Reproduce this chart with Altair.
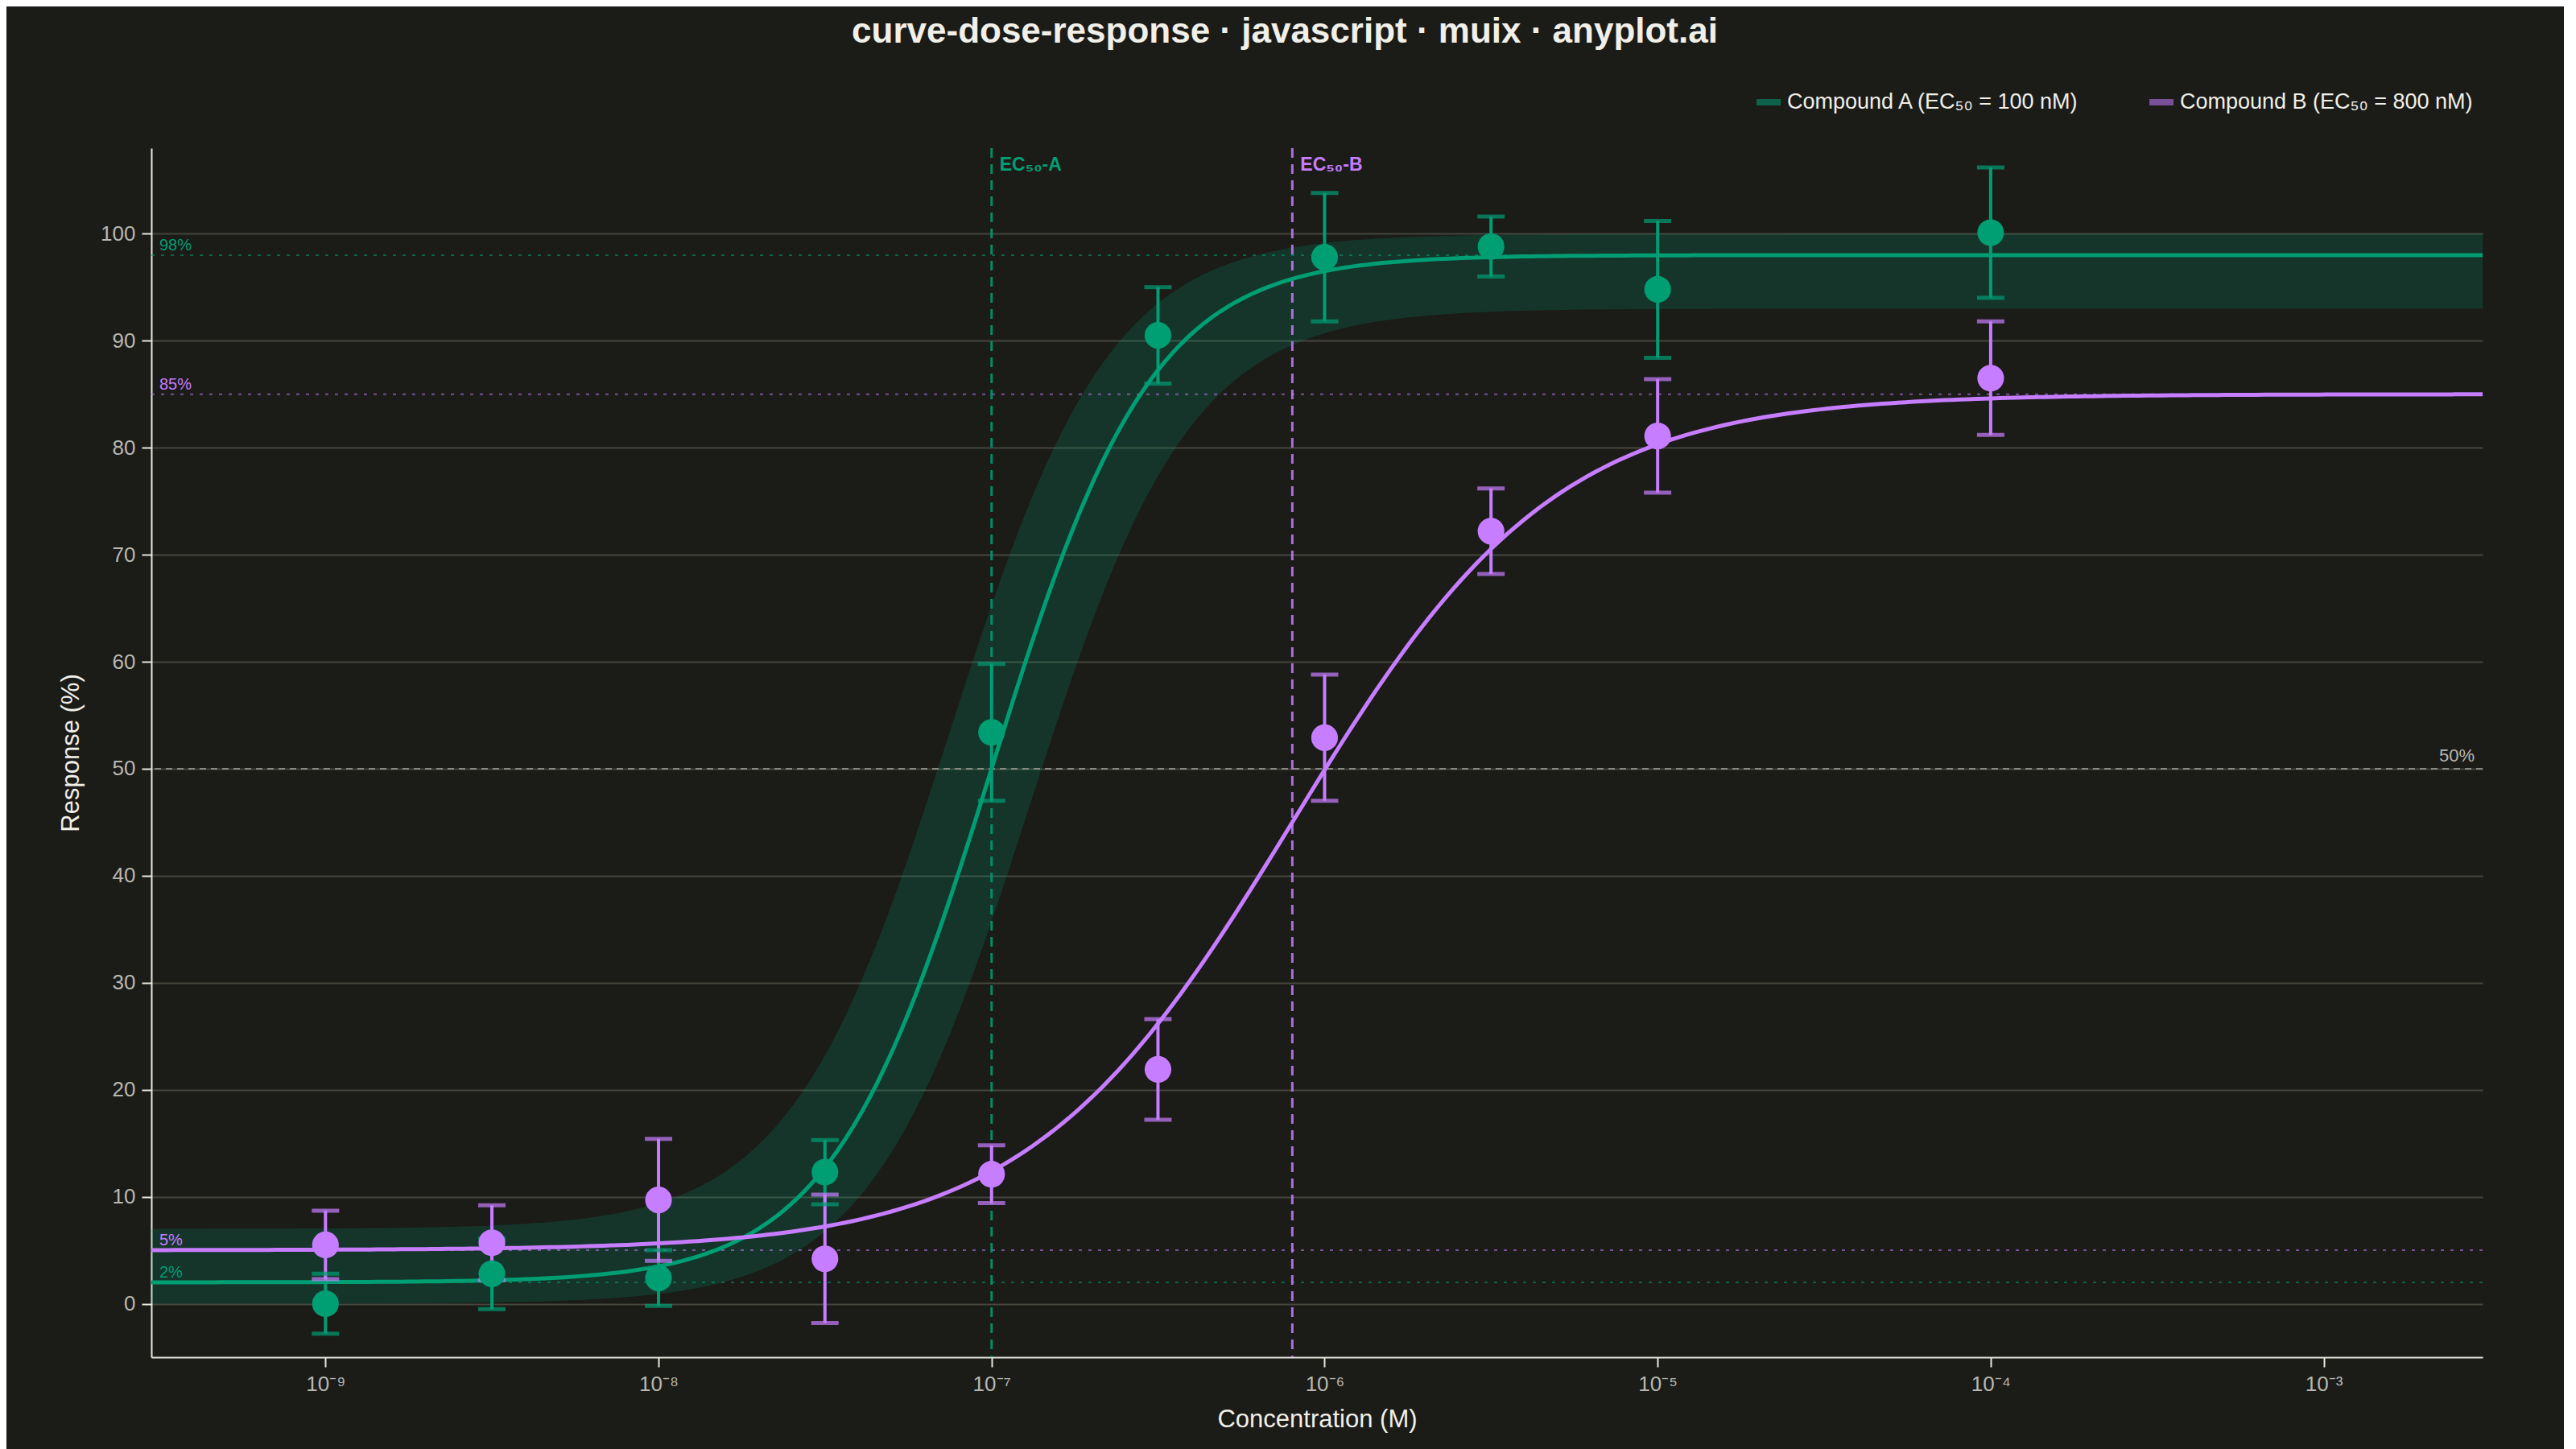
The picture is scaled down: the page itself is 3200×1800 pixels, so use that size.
import numpy as np
import pandas as pd
import altair as alt

names = ["Compound A (EC₅₀ = 100 nM)", "Compound B (EC₅₀ = 800 nM)"]
colors = ["#009E73", "#C77DFF"]

conc = [1e-9, 3.16e-9, 1e-8, 3.16e-8, 1e-7, 3.16e-7, 1e-6, 3.16e-6, 1e-5, 1e-4]
resp_a = [0.0, 2.8, 2.4, 12.3, 53.4, 90.5, 97.8, 98.8, 94.8, 100.1]
err_a = [2.8, 3.3, 2.6, 3.0, 6.4, 4.5, 6.0, 2.8, 6.4, 6.1]
resp_b = [5.5, 5.7, 9.7, 4.2, 12.1, 21.9, 52.9, 72.2, 81.1, 86.5]
err_b = [3.2, 3.5, 5.7, 6.0, 2.7, 4.7, 5.9, 4.0, 5.3, 5.3]

# fitted 4PL parameters: bottom, top, ec50, hill
fit_a = [2, 98, 1e-7, 1.8]
fit_b = [5, 85, 8e-7, 1.1]
band_lo = [0, 93, 1.3e-7, 1.8]
band_hi = [7, 100, 0.75e-7, 1.8]

grid = np.logspace(np.log10(3e-10), np.log10(3e-3), 300)


def fourpl(x, p):
    b, t, ec, h = p
    return b + (t - b) / (1 + (ec / x) ** h)


pts = pd.concat([
    pd.DataFrame({"x": conc, "y": resp_a, "e": err_a, "s": names[0]}),
    pd.DataFrame({"x": conc, "y": resp_b, "e": err_b, "s": names[1]}),
])
pts["lo"] = pts["y"] - pts["e"]
pts["hi"] = pts["y"] + pts["e"]

curves = pd.concat([
    pd.DataFrame({"x": grid, "y": fourpl(grid, fit_a), "s": names[0]}),
    pd.DataFrame({"x": grid, "y": fourpl(grid, fit_b), "s": names[1]}),
])
band = pd.DataFrame({"x": grid, "lo": np.maximum(fourpl(grid, band_lo), 0), "hi": fourpl(grid, band_hi)})

xs = alt.Scale(type="log", domain=[3e-10, 3e-3], nice=False)
ys = alt.Scale(domain=[-5, 108], nice=False, zero=False)
cs = alt.Scale(domain=names, range=colors)
sup = "['⁰','¹','²','³','⁴','⁵','⁶','⁷','⁸','⁹'][round(-log(datum.value)/LN10)]"
xax = alt.Axis(values=[1e-9, 1e-8, 1e-7, 1e-6, 1e-5, 1e-4, 1e-3], labelExpr="'10⁻' + " + sup,
               title="Concentration (M)", grid=False)
yax = alt.Axis(values=list(range(0, 101, 10)), title="Response (%)", grid=True)

X = alt.X("x:Q", scale=xs, axis=xax)

band_layer = alt.Chart(band).mark_area(color="#009E73", opacity=0.2).encode(
    x=X, y=alt.Y("lo:Q", scale=ys, axis=yax), y2="hi:Q")

hlines = pd.DataFrame({"y": [98, 85, 5, 2], "c": ["#009E73", "#C77DFF", "#C77DFF", "#009E73"],
                       "t": ["98%", "85%", "5%", "2%"]})
h_layer = alt.Chart(hlines).mark_rule(strokeDash=[4, 8], strokeWidth=2, opacity=0.55).encode(
    y=alt.Y("y:Q", scale=ys), color=alt.Color("c:N", scale=None))
h_text = alt.Chart(hlines).mark_text(align="left", baseline="bottom", dx=10, dy=-2, fontSize=20,
                                     font="Liberation Sans").encode(
    x=alt.value(0), y=alt.Y("y:Q", scale=ys), text="t:N", color=alt.Color("c:N", scale=None))

half = pd.DataFrame({"y": [50], "t": ["50%"]})
half_layer = alt.Chart(half).mark_rule(strokeDash=[8, 6], strokeWidth=2, color="#8a8a84").encode(
    y=alt.Y("y:Q", scale=ys))
half_text = alt.Chart(half).mark_text(align="right", baseline="bottom", dx=-10, dy=-4, fontSize=22,
                                      color="#b8b8b0", font="Liberation Sans").encode(
    x=alt.value(2896), y=alt.Y("y:Q", scale=ys), text="t:N")

vlines = pd.DataFrame({"x": [1e-7, 8e-7], "c": colors, "t": ["EC₅₀-A", "EC₅₀-B"]})
v_layer = alt.Chart(vlines).mark_rule(strokeDash=[12, 8], strokeWidth=3, opacity=0.85).encode(
    x=alt.X("x:Q", scale=xs), color=alt.Color("c:N", scale=None))
v_text = alt.Chart(vlines).mark_text(align="left", baseline="top", dx=10, fontSize=23, fontWeight="bold",
                                     font="Liberation Sans").encode(
    x=alt.X("x:Q", scale=xs), y=alt.value(10), text="t:N", color=alt.Color("c:N", scale=None))

curve_layer = alt.Chart(curves).mark_line(strokeWidth=5).encode(
    x=X, y=alt.Y("y:Q", scale=ys),
    color=alt.Color("s:N", scale=cs, legend=alt.Legend(
        orient="none", legendX=1990, legendY=-76, direction="horizontal", title=None,
        symbolType="stroke", symbolStrokeWidth=8, symbolSize=900, symbolOpacity=1,
        labelFontSize=27, labelLimit=0, labelColor="#f0efe8", columnPadding=70,
        labelFont="Liberation Sans")))

err_layer = alt.Chart(pts).mark_rule(strokeWidth=4).encode(
    x=alt.X("x:Q", scale=xs), y=alt.Y("lo:Q", scale=ys), y2="hi:Q",
    color=alt.Color("s:N", scale=cs, legend=None))
cap_lo = alt.Chart(pts).mark_tick(orient="horizontal", size=34, thickness=5).encode(
    x=alt.X("x:Q", scale=xs), y=alt.Y("lo:Q", scale=ys), color=alt.Color("s:N", scale=cs, legend=None))
cap_hi = alt.Chart(pts).mark_tick(orient="horizontal", size=34, thickness=5).encode(
    x=alt.X("x:Q", scale=xs), y=alt.Y("hi:Q", scale=ys), color=alt.Color("s:N", scale=cs, legend=None))
dots = alt.Chart(pts).mark_circle(size=1100, opacity=1).encode(
    x=alt.X("x:Q", scale=xs), y=alt.Y("y:Q", scale=ys), color=alt.Color("s:N", scale=cs, legend=None))

chart = alt.layer(
    band_layer, h_layer, h_text, half_layer, half_text, v_layer, v_text,
    curve_layer, err_layer, cap_lo, cap_hi, dots
).properties(
    width=2896, height=1502,
    autosize=alt.AutoSizeParams(type="pad"),
    padding={"left": 64, "top": 10, "right": 90, "bottom": 60},
    background="#1b1b18",
    title=alt.TitleParams("curve-dose-response · javascript · muix · anyplot.ai", fontSize=44,
                          font="Liberation Sans", fontWeight="bold", color="#f0efe8",
                          anchor="middle", offset=46, dx=-40),
).configure_view(stroke=None).configure_axis(
    labelFont="Liberation Sans", titleFont="Liberation Sans", labelFontSize=26, titleFontSize=31,
    labelColor="#b8b8b0", titleColor="#f0efe8", titleFontWeight="normal",
    domainColor="#e8e8e0", domainWidth=2, tickColor="#e8e8e0", tickWidth=2, tickSize=12,
    gridColor="#46463f", gridWidth=2, labelPadding=8,
).configure_axisX(titlePadding=16).configure_axisY(titlePadding=20)

chart.save("out.html", embed_options={"renderer": "svg", "actions": False})
